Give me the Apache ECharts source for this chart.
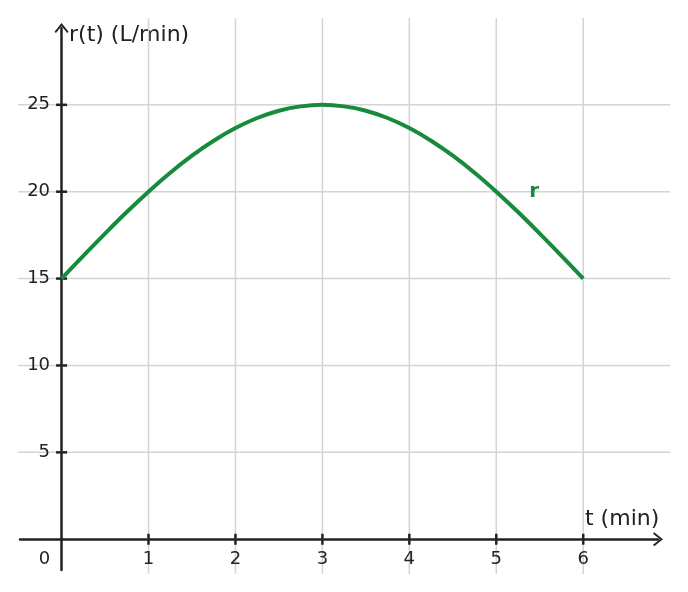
<!DOCTYPE html>
<html><head><meta charset="utf-8">
<script src="https://cdn.jsdelivr.net/npm/echarts@6/dist/echarts.min.js"></script>
<style>html,body{margin:0;padding:0;background:#fff}#c{width:688px;height:592px}</style>
</head><body><div id="c"></div>
<script>
const tValues = [0,0.25,0.5,0.75,1,1.25,1.5,1.75,2,2.25,2.5,2.75,3,3.25,3.5,3.75,4,4.25,4.5,4.75,5,5.25,5.5,5.75,6];
const rValues = [15,16.31,17.59,18.83,20,21.09,22.07,22.93,23.66,24.24,24.66,24.91,25,24.91,24.66,24.24,23.66,22.93,22.07,21.09,20,18.83,17.59,16.31,15];
const xTicks = [1,2,3,4,5,6];
const yTicks = [5,10,15,20,25];
const xName = 't (min)';
const yName = 'r(t) (L/min)';
const seriesName = 'r';
const labelAtT = 5;
// axis extents (axis lines) and gridline extents
const X_MIN = -0.478, X_MAX = 6.86, Y_MIN = -1.77, Y_MAX = 29.42;
const GX_MIN = -0.5, GX_MAX = 7, GY_MIN = -2, GY_MAX = 30;

const FONT = 'DejaVu Sans';
const INK = '#222222';
const GREEN = '#178a3c';
const GRID = '#d4d4d4';

const chart = echarts.init(document.getElementById('c'), null, {renderer:'canvas'});
const chevron = 'path://M0,15 L12,0 L24,15 L21.6,17 L12,5 L2.4,17 Z';

const gridSegs = [];
xTicks.forEach(v => gridSegs.push([v, GY_MIN, v, GY_MAX]));
yTicks.forEach(v => gridSegs.push([GX_MIN, v, GX_MAX, v]));

const axisCommon = {
  splitLine:{show:false},
  axisTick:{show:false},
  axisLabel:{show:false},
  axisLine:{show:true, onZero:true, symbol:['none', chevron], symbolSize:[14,11], symbolOffset:[0,0],
    lineStyle:{color:INK, width:2.5}}
};

const li = tValues.indexOf(labelAtT);

chart.setOption({
  animation:false,
  backgroundColor:'#ffffff',
  grid:{left:20, right:30, top:28, bottom:22, containLabel:false, outerBoundsMode:'none'},
  xAxis:Object.assign({type:'value', min:X_MIN, max:X_MAX}, axisCommon),
  yAxis:Object.assign({type:'value', min:Y_MIN, max:Y_MAX}, axisCommon),
  graphic:[
    {type:'text', left:69, top:24, style:{text:yName, fill:INK, font:'22px "DejaVu Sans"'}},
    {type:'text', left:585, top:508, style:{text:xName, fill:INK, font:'22px "DejaVu Sans"'}}
  ],
  series:[
    {type:'custom', silent:true, z:1, clip:false, data:gridSegs,
      encode:{x:[0,2], y:[1,3]},
      renderItem:(params, api)=>{
        const a = api.coord([api.value(0), api.value(1)]);
        const b = api.coord([api.value(2), api.value(3)]);
        return {type:'line', shape:{x1:a[0], y1:a[1], x2:b[0], y2:b[1]},
          style:{stroke:GRID, lineWidth:1.5}};
      }},
    {type:'scatter', silent:true, z:5, symbol:'rect', symbolSize:[2.5,11],
      itemStyle:{color:INK, opacity:1}, data:xTicks.map(v=>[v,0]),
      label:{show:true, position:'bottom', distance:6, formatter:p=>String(p.value[0]),
        color:INK, fontFamily:FONT, fontSize:18}},
    {type:'scatter', silent:true, z:5, symbol:'rect', symbolSize:[11,2.5],
      itemStyle:{color:INK, opacity:1}, data:yTicks.map(v=>[0,v]),
      label:{show:true, position:'left', distance:6, formatter:p=>String(p.value[1]),
        color:INK, fontFamily:FONT, fontSize:18}},
    {type:'scatter', silent:true, z:5, symbolSize:0, itemStyle:{opacity:1}, data:[[0,0]],
      label:{show:true, formatter:'0', position:'bottom', offset:[-17,6], color:INK, fontFamily:FONT, fontSize:18}},
    {type:'line', name:seriesName, z:10, showSymbol:false, symbol:'none', smooth:0.4,
      lineStyle:{color:GREEN, width:4},
      data:tValues.map((t,i)=>[t, rValues[i]])
    },
    {type:'scatter', silent:true, z:11, symbolSize:0, itemStyle:{opacity:1},
      data:[[tValues[li], rValues[li]]],
      label:{show:true, formatter:seriesName, position:'right', distance:33,
        color:GREEN, fontWeight:'bold', fontFamily:FONT, fontSize:20}}
  ]
});
</script></body></html>
